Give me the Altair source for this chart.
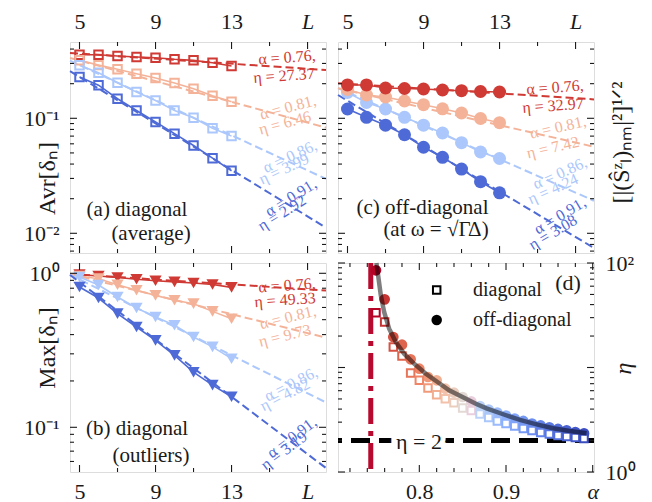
import altair as alt
import pandas as pd

FONT = "Liberation Serif"
INK = "#1a1a1a"

# ---------------- data ----------------
L_values = [5, 6, 7, 8, 9, 10, 11, 12, 13]
series_alpha = ["0.76", "0.81", "0.86", "0.91"]
series_colors = ["#cf3a34", "#f4b399", "#abc7fb", "#4e6ad6"]
L_fit_ends = [4.5, 17.97]

# (a) Avr[delta_n], diagonal
avr_diag_076 = [0.357, 0.357, 0.348, 0.341, 0.336, 0.326, 0.319, 0.304, 0.285]
avr_diag_081 = [0.320, 0.290, 0.267, 0.244, 0.224, 0.203, 0.181, 0.157, 0.139]
avr_diag_086 = [0.289, 0.249, 0.204, 0.169, 0.143, 0.117, 0.101, 0.082, 0.070]
avr_diag_091 = [0.229, 0.194, 0.148, 0.117, 0.093, 0.0735, 0.058, 0.045, 0.035]
avr_fit_076 = [0.370, 0.263]
avr_fit_081 = [0.335, 0.083]
avr_fit_086 = [0.317, 0.0297]
avr_fit_091 = [0.257, 0.0112]

# (b) Max[delta_n], diagonal outliers
max_diag_076 = [0.98, 0.96, 0.94, 0.915, 0.895, 0.88, 0.865, 0.845, 0.81]
max_diag_081 = [0.960, 0.923, 0.843, 0.776, 0.719, 0.668, 0.635, 0.566, 0.507]
max_diag_086 = [0.946, 0.839, 0.702, 0.595, 0.520, 0.460, 0.386, 0.333, 0.279]
max_diag_091 = [0.815, 0.691, 0.547, 0.448, 0.367, 0.293, 0.228, 0.188, 0.158]
max_fit_076 = [0.99, 0.773]
max_fit_081 = [0.99, 0.382]
max_fit_086 = [0.98, 0.145]
max_fit_091 = [0.975, 0.0544]

# (c) off-diagonal
off_076 = [0.195, 0.195, 0.1834, 0.1816, 0.1798, 0.1762, 0.1738, 0.171, 0.1693]
off_081 = [0.178, 0.1594, 0.1532, 0.1414, 0.1313, 0.121, 0.1112, 0.0996, 0.0916]
off_086 = [0.1676, 0.1372, 0.1205, 0.102, 0.0871, 0.0745, 0.0614, 0.0509, 0.0447]
off_091 = [0.1205, 0.102, 0.0871, 0.0719, 0.056, 0.0458, 0.0362, 0.0281, 0.0225]
off_fit_076 = [0.2013, 0.146]
off_fit_081 = [0.1823, 0.0566]
off_fit_086 = [0.183, 0.0192]
off_fit_091 = [0.1594, 0.00745]

# (d) eta vs alpha
alpha_grid = [0.75, 0.76, 0.77, 0.78, 0.79, 0.80, 0.81, 0.82, 0.83, 0.84, 0.85, 0.86,
              0.87, 0.88, 0.89, 0.90, 0.91, 0.92, 0.93, 0.94, 0.95, 0.96, 0.97, 0.98, 0.99]
eta_diag = [33.45, 27.25, 15.71, 12.88, 8.86, 7.54, 6.37, 5.49, 5.03, 4.60, 4.10, 3.88,
            3.59, 3.32, 3.08, 2.91, 2.76, 2.61, 2.50, 2.39, 2.31, 2.24, 2.19, 2.14, 2.09]
eta_offdiag = [85.1, 44.9, 19.58, 16.53, 11.98, 9.74, 8.11, 7.54, 6.27, 5.74, 5.22, 4.73,
               4.28, 3.96, 3.71, 3.47, 3.25, 3.08, 2.91, 2.79, 2.68, 2.58, 2.50, 2.41, 2.34]
curve_alpha = [0.7505, 0.7525, 0.7556, 0.7594, 0.7652, 0.7729, 0.7825, 0.794, 0.8075, 0.821,
               0.8344, 0.8498, 0.8652, 0.8775, 0.8967, 0.916, 0.9352, 0.9543, 0.9736, 0.9929]
curve_eta = [100, 76, 49.1, 34.0, 23.5, 17.5, 13.55, 10.87, 8.72, 7.27,
             6.05, 5.22, 4.50, 4.07, 3.57, 3.15, 2.86, 2.62, 2.47, 2.35]
alpha_critical = [0.744]
eta_bound = [2]
legend_kinds = ["diagonal", "off-diagonal"]

# tick positions
L_major = [5, 9, 13, 17]
L_minor = [7, 11, 15]
ya_major = [0.01, 0.1]
ya_minor = [0.007, 0.008, 0.009, 0.02, 0.03, 0.04, 0.05, 0.06, 0.07, 0.08, 0.09, 0.2, 0.3, 0.4]
yb_major = [0.1, 1]
yb_minor = [0.06, 0.07, 0.08, 0.09, 0.2, 0.3, 0.4, 0.5, 0.6, 0.7, 0.8, 0.9]
al_major = [0.8, 0.9, 1.0]
al_minor = [0.72, 0.74, 0.76, 0.78, 0.82, 0.84, 0.86, 0.88, 0.92, 0.94, 0.96, 0.98]
yd_major = [1, 10, 100]
yd_minor = [2, 3, 4, 5, 6, 7, 8, 9, 20, 30, 40, 50, 60, 70, 80, 90]

# ---------------- layout ----------------
W = 256
H1 = 211
H2 = 209
ONE = pd.DataFrame({"k": [0]})


def long_df(lists, xs, order):
    rows = []
    for i in order:
        for x, v in zip(xs, lists[i]):
            rows.append({"L": x, "v": v, "s": series_alpha[i]})
    return pd.DataFrame(rows)


sx_L = alt.Scale(domain=[4.5, 17.97], nice=False, zero=False)
sy_a = alt.Scale(type="log", domain=[0.00674, 0.4608], nice=False)
sy_b = alt.Scale(type="log", domain=[0.05126, 1.1665], nice=False)
sx_al = alt.Scale(domain=[0.7062, 1.0015], nice=False, zero=False)
sy_d = alt.Scale(type="log", domain=[1, 100], nice=False)
col_s = alt.Scale(domain=series_alpha, range=series_colors)
cmap = alt.Scale(domain=[0.75, 0.77, 0.80, 0.83, 0.85, 0.87, 0.90, 0.94, 0.99],
                 range=["#b40426", "#d65243", "#ef8566", "#f3c1a9", "#e2d9d4",
                        "#bcd2f7", "#8caffe", "#6282ea", "#3b4cc0"])


def L_axis(orient):
    return alt.Axis(orient=orient, values=L_major,
                    labelExpr="datum.value == 17 ? 'L' : datum.label",
                    labelFontStyle={"condition": {"test": "datum.value == 17", "value": "italic"},
                                    "value": "normal"},
                    ticks=False, domain=False, grid=False, title=None, labelFlush=False,
                    labelFont=FONT, labelFontSize=22, labelPadding=9, labelColor=INK)


def left_axis(values, expr, title, ty):
    return alt.Axis(orient="left", values=values, labelExpr=expr, ticks=False, domain=False,
                    grid=False, title=title, titleX=-23, titleY=ty, titleAngle=270,
                    titleAlign="center", titleBaseline="middle", titleFont=FONT,
                    titleFontSize=24, titleFontWeight="normal", titleColor=INK,
                    labelFont=FONT, labelFontSize=22, labelPadding=11, labelColor=INK)


def tick_layers(xmaj, xmin, xs, xax, ymaj, ymin, ys, yax, H):
    out = []
    for vals, ln in ((xmaj, 7), (xmin, 4)):
        df = pd.DataFrame({"t": vals})
        ex = alt.X("t:Q", scale=xs, axis=xax)
        out.append(alt.Chart(df).mark_rule(color=INK, strokeWidth=1.1).encode(
            x=ex, y=alt.value(0), y2=alt.value(ln)))
        out.append(alt.Chart(df).mark_rule(color=INK, strokeWidth=1.1).encode(
            x=ex, y=alt.value(H - ln), y2=alt.value(H)))
    for vals, ln in ((ymaj, 7), (ymin, 4)):
        df = pd.DataFrame({"t": vals})
        ey = alt.Y("t:Q", scale=ys, axis=yax)
        out.append(alt.Chart(df).mark_rule(color=INK, strokeWidth=1.1).encode(
            y=ey, x=alt.value(0), x2=alt.value(ln)))
        out.append(alt.Chart(df).mark_rule(color=INK, strokeWidth=1.1).encode(
            y=ey, x=alt.value(W - ln), x2=alt.value(W)))
    return out


def txt(t, x, y, angle=0, color=INK, size=16, style="normal", align="center", **kw):
    return alt.Chart(ONE).mark_text(text=t, font=FONT, fontSize=size, angle=angle, color=color,
                                    align=align, baseline="middle", fontStyle=style, **kw).encode(
        x=alt.value(x), y=alt.value(y))


def ann_layers(items):
    out = []
    for i, (a_xy, e_xy, ang, etxt) in enumerate(items):
        c = series_colors[i]
        out.append(txt("α = " + series_alpha[i] + ",", a_xy[0], a_xy[1], ang, c))
        out.append(txt("η = " + etxt, e_xy[0], e_xy[1], ang, c))
    return out


def series_panel(data_lists, fit_lists, ys, xaxis, yaxis, marker, order, H, anns, labels,
                 ymaj, ymin):
    d_pts = long_df(data_lists, L_values, order)
    d_fit = long_df(fit_lists, L_fit_ends, order)
    color = alt.Color("s:N", scale=col_s, legend=None)
    ex = alt.X("L:Q", scale=sx_L, axis=xaxis)
    ey = alt.Y("v:Q", scale=ys, axis=yaxis)
    fit = alt.Chart(d_fit).mark_line(strokeDash=[8, 4], strokeWidth=2).encode(
        x=ex, y=ey, color=color, detail="s:N")
    line = alt.Chart(d_pts).mark_line(strokeWidth=1.6).encode(
        x=ex, y=ey, color=color, detail="s:N")
    pts = alt.Chart(d_pts).mark_point(opacity=1, **marker).encode(x=ex, y=ey, color=color)
    layers = [fit, line, pts]
    layers += tick_layers(L_major, L_minor, sx_L, xaxis, ymaj, ymin, ys, yaxis, H)
    layers += ann_layers(anns)
    for (t, x, y) in labels:
        layers.append(txt(t, x, y, size=21))
    return alt.layer(*layers).properties(width=W, height=H)


# ---------------- panels ----------------
anns_a = [((217, 15.5), (214, 33.8), 356, "27.37"),
          ((218, 65.5), (215, 81), 345, "6.46"),
          ((220, 114.7), (214, 127), 335, "3.99"),
          ((221, 155.5), (212, 171), 328, "2.92")]
anns_b = [((217, 22.5), (215, 37), 356, "49.33"),
          ((218, 54.5), (215, 72.8), 346, "9.73"),
          ((221, 121.2), (215, 132), 333, "4.82"),
          ((222, 174.5), (214, 187.8), 323, "3.19")]
anns_c = [((217, 45.5), (215, 63.8), 356, "32.97"),
          ((220, 85.5), (215, 105.5), 347, "7.42"),
          ((222, 131.3), (215, 147), 336, "4.24"),
          ((222, 173.8), (215, 190.5), 329, "3.08")]

pa = series_panel(
    [avr_diag_076, avr_diag_081, avr_diag_086, avr_diag_091],
    [avr_fit_076, avr_fit_081, avr_fit_086, avr_fit_091],
    sy_a, L_axis("top"),
    left_axis(ya_major, "datum.value < 0.05 ? '10⁻²' : '10⁻¹'", "Avr[δₙ]", 136),
    dict(shape="square", filled=False, size=72, strokeWidth=2), [0, 1, 2, 3], H1, anns_a,
    [("(a) diagonal", 67, 168), ("(average)", 81, 192)], ya_major, ya_minor)

right_title = alt.Axis(orient="right", labels=False, ticks=False, domain=False, grid=False,
                       title="[|(Ŝᶻₗ)ₙₘ|²]¹ᐟ²", titleX=27, titleY=100, titleAngle=270,
                       titleAlign="center", titleBaseline="middle", titleFont=FONT,
                       titleFontSize=24, titleFontWeight="normal", titleColor=INK)
pc = series_panel(
    [off_076, off_081, off_086, off_091],
    [off_fit_076, off_fit_081, off_fit_086, off_fit_091],
    sy_a, L_axis("top"), right_title,
    dict(shape="circle", filled=True, size=169), [3, 2, 1, 0], H1, anns_c,
    [("(c) off-diagonal", 84.5, 166), ("(at ω = √ΓΔ)", 98, 188)], ya_major, ya_minor)

pb = series_panel(
    [max_diag_076, max_diag_081, max_diag_086, max_diag_091],
    [max_fit_076, max_fit_081, max_fit_086, max_fit_091],
    sy_b, L_axis("bottom"),
    left_axis(yb_major, "datum.value < 0.5 ? '10⁻¹' : '10⁰'", "Max[δₙ]", 84.5),
    dict(shape="triangle-down", filled=True, size=150), [0, 1, 2, 3], H2, anns_b,
    [("(b) diagonal", 67, 166), ("(outliers)", 81, 193)], yb_major, yb_minor)

# (d)
df_diag = pd.DataFrame({"a": alpha_grid, "e": eta_diag})
df_off = pd.DataFrame({"a": alpha_grid, "e": eta_offdiag})
df_curve = pd.DataFrame({"a": curve_alpha, "e": curve_eta})
xd_axis = alt.Axis(orient="bottom", values=al_major,
                   labelExpr="datum.value > 0.95 ? 'α' : datum.label",
                   labelFontStyle={"condition": {"test": "datum.value > 0.95", "value": "italic"},
                                   "value": "normal"},
                   ticks=False, domain=False, grid=False, title=None, labelFlush=False,
                   labelFont=FONT, labelFontSize=22, labelPadding=9, labelColor=INK)
yd_axis = alt.Axis(orient="right", values=[1, 100],
                   labelExpr="datum.value > 10 ? '10²' : '10⁰'", ticks=False, domain=False,
                   grid=False, title="η", titleX=29, titleY=105, titleAngle=270,
                   titleAlign="center", titleBaseline="middle", titleFont=FONT,
                   titleFontSize=24, titleFontWeight="normal", titleFontStyle="italic",
                   titleColor=INK, labelFont=FONT, labelFontSize=22, labelPadding=11,
                   labelColor=INK, labelFlush=False)
exd = alt.X("a:Q", scale=sx_al, axis=xd_axis)
eyd = alt.Y("e:Q", scale=sy_d, axis=yd_axis)

vline = alt.Chart(pd.DataFrame({"a": alpha_critical})).mark_rule(
    color="#b80a2e", strokeWidth=5, strokeDash=[26, 7, 5, 7]).encode(x=exd)
hline = alt.Chart(pd.DataFrame({"e": eta_bound})).mark_rule(
    color="black", strokeWidth=5, strokeDash=[19, 9]).encode(y=eyd)
circles = alt.Chart(df_off).mark_point(shape="circle", filled=True, size=115, opacity=1).encode(
    x=exd, y=eyd, color=alt.Color("a:Q", scale=cmap, legend=None))
squares = alt.Chart(df_diag).mark_point(shape="square", filled=True, fill="white", size=56,
                                        strokeWidth=2, opacity=1).encode(
    x=exd, y=eyd, stroke=alt.Stroke("a:Q", scale=cmap, legend=None))
curve = alt.Chart(df_curve).mark_line(color="black", opacity=0.5, strokeWidth=4.5).encode(
    x=exd, y=eyd)

leg_sq = alt.Chart(ONE).mark_point(shape="square", filled=True, fill="white", stroke="black",
                                   strokeWidth=2, size=56, opacity=1).encode(
    x=alt.value(98.7), y=alt.value(27))
leg_ci = alt.Chart(ONE).mark_point(shape="circle", filled=True, color="black", size=110,
                                   opacity=1).encode(x=alt.value(98.7), y=alt.value(57))

pd_ = alt.layer(
    vline, hline, circles, squares, curve,
    *tick_layers(al_major, al_minor, sx_al, xd_axis, yd_major, yd_minor, sy_d, yd_axis, H2),
    txt("η = 2", 81, 179, size=22, stroke="white", strokeWidth=10),
    txt("η = 2", 81, 179, size=22),
    leg_sq, leg_ci,
    txt(legend_kinds[0], 135, 27, size=20, align="left"),
    txt(legend_kinds[1], 135, 57, size=20, align="left"),
    txt("(d)", 230, 20, size=22),
).properties(width=W, height=H2)

chart = alt.concat(pa, pc, pb, pd_, columns=2, spacing={"row": 10, "column": 12},
                   bounds="flush",
                   autosize=alt.AutoSizeParams(type="none"),
                   padding={"left": 62, "top": 34, "right": 574, "bottom": 460}
                   ).configure_view(stroke=INK, strokeWidth=1.2).configure(
    font=FONT, background="white")

chart.save("out.html", embed_options={"renderer": "svg", "actions": False})
